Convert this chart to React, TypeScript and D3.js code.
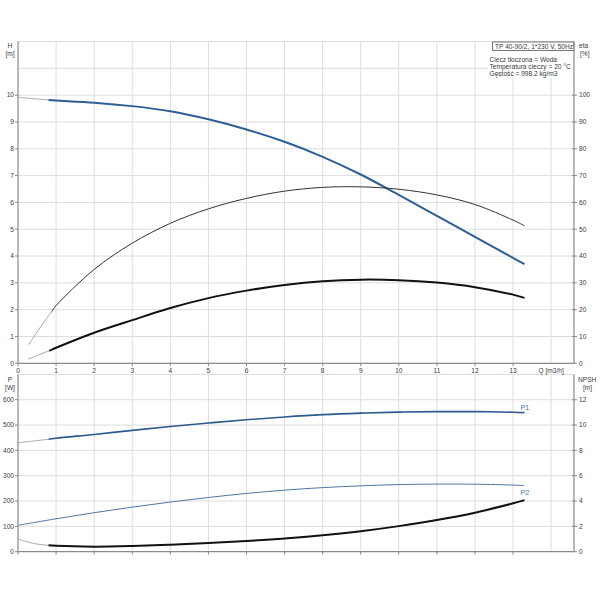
import React from "react";
import * as d3 from "d3";

// ---- data ----
// each curve: Q values, values, and the Q where the drawn (thick) operating range starts
const hQ = [0, 0.8, 1, 2, 3, 4, 5, 6, 7, 8, 9, 10, 11, 12, 13, 13.3];
const hV = [9.92, 9.82, 9.8, 9.72, 9.59, 9.4, 9.1, 8.72, 8.26, 7.7, 7.04, 6.28, 5.5, 4.71, 3.93, 3.7];
const hStart = 0.8;

const etaQ = [0.27, 0.6, 0.88, 1, 2, 3, 4, 5, 6, 7, 8, 9, 10, 11, 12, 13, 13.3];
const etaV = [6.8, 13.7, 19.2, 21.5, 35.0, 44.8, 52.2, 57.6, 61.5, 64.2, 65.6, 65.8, 64.9, 62.8, 59.2, 53.4, 51.3];
const etaStart = 0.88;

const etaTotQ = [0.27, 0.82, 1, 2, 3, 4, 5, 6, 7, 8, 9, 10, 11, 12, 13, 13.3];
const etaTotV = [1.6, 4.7, 5.8, 11.4, 16.1, 20.6, 24.3, 27.1, 29.2, 30.6, 31.2, 31.0, 30.1, 28.4, 25.6, 24.4];
const etaTotStart = 0.82;

const p1Q = [0, 0.8, 1, 2, 3, 4, 5, 6, 7, 8, 9, 10, 11, 12, 13, 13.3];
const p1V = [430, 444, 448, 463, 479, 494, 508, 521, 532, 541, 547, 551, 553, 553, 550.5, 549];
const p1Start = 0.8;

const p2Q = [0, 1, 2, 3, 4, 5, 6, 7, 8, 9, 10, 11, 12, 13, 13.3];
const p2V = [104, 130, 154, 176, 196, 214, 230, 243, 253, 260, 265, 267, 266.5, 263, 261];

const npshQ = [0, 0.4, 0.8, 1, 2, 3, 4, 5, 6, 7, 8, 9, 10, 11, 12, 13, 13.3];
const npshV = [1.0, 0.66, 0.5, 0.46, 0.4, 0.45, 0.55, 0.68, 0.84, 1.04, 1.3, 1.62, 2.02, 2.5, 3.08, 3.82, 4.07];
const npshStart = 0.8;

const qTicks = [0, 1, 2, 3, 4, 5, 6, 7, 8, 9, 10, 11, 12, 13];
const qGrid = [1, 2, 3, 4, 5, 6, 7, 8, 9, 10, 11, 12, 13, 14];
const hTicks = [0, 1, 2, 3, 4, 5, 6, 7, 8, 9, 10];
const hGrid = [1, 2, 3, 4, 5, 6, 7, 8, 9, 10, 11, 12];
const etaTicks = [0, 10, 20, 30, 40, 50, 60, 70, 80, 90, 100];
const pTicks = [0, 100, 200, 300, 400, 500, 600];
const pGrid = [100, 200, 300, 400, 500, 600, 700];
const npshTicks = [0, 2, 4, 6, 8, 10, 12];

const titleText = "TP 40-90/2, 1*230 V, 50Hz";
const infoLines = ["Ciecz tłoczona = Woda", "Temperatura cieczy = 20 °C", "Gęstość = 998.2 kg/m3"];

// ---- scales ----
const L = 18, R = 574;
const x = d3.scaleLinear().domain([0, 14.6]).range([L, R]);
const yH = d3.scaleLinear().domain([0, 12]).range([363.3, 41.5]);
const yEta = d3.scaleLinear().domain([0, 120]).range([363.3, 41.5]);
const yP = d3.scaleLinear().domain([0, 700]).range([551.7, 374.4]);
const yN = d3.scaleLinear().domain([0, 14]).range([551.7, 374.4]);

const AX = "#8a8a8a";
const GRID = "#dddddd";
const TXT = "#3a3a3a";
const EXT = "#a0a0a0";
const FONT = "'Liberation Sans', Arial, sans-serif";
const FS = 6.6;

function path(qs: number[], vs: number[], y: d3.ScaleLinear<number, number>) {
  const pts = qs.map((q, i) => [q, vs[i]] as [number, number]);
  return d3
    .line<[number, number]>()
    .x((d) => x(d[0]))
    .y((d) => y(d[1]))
    .curve(d3.curveCatmullRom.alpha(0.5))(pts) as string;
}

function Curve(props: {
  id: string;
  qs: number[];
  vs: number[];
  y: d3.ScaleLinear<number, number>;
  start: number;
  color: string;
  width: number;
}) {
  const { id, qs, vs, y, start, color, width } = props;
  const d = path(qs, vs, y);
  const xs = x(start);
  return (
    <g>
      <defs>
        <clipPath id={id + "-a"}>
          <rect x={0} y={0} width={xs} height={600} />
        </clipPath>
        <clipPath id={id + "-b"}>
          <rect x={xs} y={0} width={600 - xs} height={600} />
        </clipPath>
      </defs>
      <path d={d} fill="none" stroke={EXT} strokeWidth={0.9} clipPath={`url(#${id}-a)`} />
      <path d={d} fill="none" stroke={color} strokeWidth={width} clipPath={`url(#${id}-b)`} />
    </g>
  );
}

export default function App() {
  const topY0 = yH(0), topY1 = yH(12);
  const botY0 = yP(0), botY1 = yP(700);
  return (
    <svg
      width={600}
      height={600}
      style={{ position: "absolute", left: 0, top: 0, background: "#fff" }}
      fontFamily={FONT}
    >
      <rect x={0} y={0} width={600} height={600} fill="#fff" />
      {/* grids top */}
      {qGrid.map((q) => (
        <line key={"vt" + q} x1={x(q)} x2={x(q)} y1={topY0} y2={topY1} stroke={GRID} strokeWidth={1} />
      ))}
      {hGrid.map((h) => (
        <line key={"ht" + h} x1={L} x2={R} y1={yH(h)} y2={yH(h)} stroke={GRID} strokeWidth={1} />
      ))}
      {/* grids bottom */}
      {qGrid.map((q) => (
        <line key={"vb" + q} x1={x(q)} x2={x(q)} y1={botY0} y2={botY1} stroke={GRID} strokeWidth={1} />
      ))}
      {pGrid.map((p) => (
        <line key={"hb" + p} x1={L} x2={R} y1={yP(p)} y2={yP(p)} stroke={GRID} strokeWidth={1} />
      ))}

      {/* info box background */}
      <rect x={488} y={topY1 + 0.5} width={R - 488 - 0.5} height={36} fill="#fff" />
      <rect x={492.5} y={topY1 + 0.5} width={R - 492.5} height={8.5} fill="#fff" stroke="#555" strokeWidth={0.8} />
      <text x={495} y={topY1 + 7} fontSize={FS} fill={TXT}>{titleText}</text>
      {infoLines.map((t, i) => (
        <text key={t} x={489.5} y={61.5 + i * 7.4} fontSize={FS} fill={TXT}>{t}</text>
      ))}

      {/* top curves */}
      <Curve id="h" qs={hQ} vs={hV} y={yH} start={hStart} color="#2d5f96" width={2} />
      <Curve id="eta" qs={etaQ} vs={etaV} y={yEta} start={etaStart} color="#333" width={1} />
      <Curve id="etat" qs={etaTotQ} vs={etaTotV} y={yEta} start={etaTotStart} color="#111" width={2} />

      {/* bottom curves */}
      <Curve id="p1" qs={p1Q} vs={p1V} y={yP} start={p1Start} color="#2b5a8c" width={1.6} />
      <path d={path(p2Q, p2V, yP)} fill="none" stroke="#4f76a3" strokeWidth={1} />
      <Curve id="npsh" qs={npshQ} vs={npshV} y={yN} start={npshStart} color="#111" width={2} />
      <text x={x(p1Q[p1Q.length - 1]) - 4} y={yP(p1V[p1V.length - 1]) - 3} fontSize={FS + 0.6} fill="#4a74a6">P1</text>
      <text x={x(p2Q[p2Q.length - 1]) - 4} y={yP(p2V[p2V.length - 1]) + 9} fontSize={FS + 0.6} fill="#4a74a6">P2</text>

      {/* axes top */}
      <line x1={L} x2={L} y1={topY0} y2={topY1} stroke={AX} strokeWidth={1.2} />
      <line x1={R} x2={R} y1={topY0} y2={topY1} stroke={AX} strokeWidth={1.2} />
      <line x1={L} x2={R} y1={topY0} y2={topY0} stroke={AX} strokeWidth={1.2} />
      {hTicks.map((h) => (
        <g key={"hl" + h}>
          <line x1={L - 3} x2={L} y1={yH(h)} y2={yH(h)} stroke={AX} />
          <text x={L - 4} y={yH(h)} dy="0.35em" textAnchor="end" fontSize={FS} fill={TXT}>{h}</text>
        </g>
      ))}
      {etaTicks.map((e) => (
        <g key={"el" + e}>
          <line x1={R - 2} x2={R + 3} y1={yEta(e)} y2={yEta(e)} stroke={AX} />
          <text x={R + 5} y={yEta(e)} dy="0.35em" fontSize={FS} fill={TXT}>{e}</text>
        </g>
      ))}
      {qTicks.map((q) => (
        <g key={"ql" + q}>
          <line x1={x(q)} x2={x(q)} y1={topY0} y2={topY0 + 3} stroke={AX} />
          <text x={x(q)} y={topY0 + 10} textAnchor="middle" fontSize={FS} fill={TXT}>{q}</text>
        </g>
      ))}
      <text x={x(14)} y={topY0 + 10} textAnchor="middle" fontSize={FS} fill={TXT}>Q [m3/h]</text>
      <text x={10} y={48} textAnchor="middle" fontSize={FS} fill={TXT}>H</text>
      <text x={10} y={56} textAnchor="middle" fontSize={FS} fill={TXT}>[m]</text>
      <text x={579} y={48} fontSize={FS} fill={TXT}>eta</text>
      <text x={580} y={56} fontSize={FS} fill={TXT}>[%]</text>

      {/* axes bottom */}
      <line x1={L} x2={L} y1={botY0} y2={botY1} stroke={AX} strokeWidth={1.2} />
      <line x1={R} x2={R} y1={botY0} y2={botY1} stroke={AX} strokeWidth={1.2} />
      <line x1={L} x2={R} y1={botY0} y2={botY0} stroke={AX} strokeWidth={1.2} />
      {pTicks.map((p) => (
        <g key={"pl" + p}>
          <line x1={L - 3} x2={L} y1={yP(p)} y2={yP(p)} stroke={AX} />
          <text x={L - 4} y={yP(p)} dy="0.35em" textAnchor="end" fontSize={FS} fill={TXT}>{p}</text>
        </g>
      ))}
      {npshTicks.map((n) => (
        <g key={"nl" + n}>
          <line x1={R - 2} x2={R + 3} y1={yN(n)} y2={yN(n)} stroke={AX} />
          <text x={R + 5} y={yN(n)} dy="0.35em" fontSize={FS} fill={TXT}>{n}</text>
        </g>
      ))}
      {qTicks.map((q) => (
        <line key={"qb" + q} x1={x(q)} x2={x(q)} y1={botY0} y2={botY0 + 3} stroke={AX} />
      ))}
      <text x={10} y={382} textAnchor="middle" fontSize={FS} fill={TXT}>P</text>
      <text x={10} y={390} textAnchor="middle" fontSize={FS} fill={TXT}>[W]</text>
      <text x={578} y={382} fontSize={FS} fill={TXT}>NPSH</text>
      <text x={583} y={390} fontSize={FS} fill={TXT}>[m]</text>
    </svg>
  );
}
